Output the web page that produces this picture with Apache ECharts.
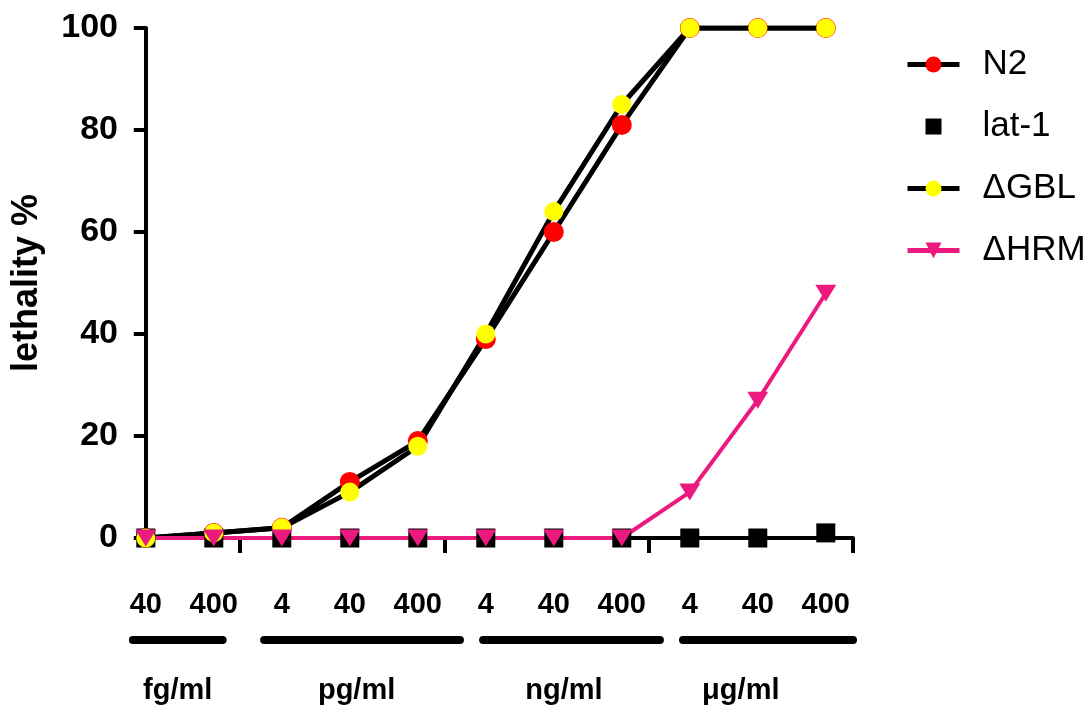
<!DOCTYPE html>
<html>
<head>
<meta charset="utf-8">
<script src="https://cdn.jsdelivr.net/npm/echarts@6/dist/echarts.min.js"></script>
<style>
  html, body { margin: 0; padding: 0; background: #fff; }
  #main { width: 1092px; height: 713px; }
</style>
</head>
<body>
<div id="main"></div>
<script>
// dose points, evenly spaced on the x axis (index 0..10)
const doseLabels = ['40', '400', '4', '40', '400', '4', '40', '400', '4', '40', '400']
const n2 = [0, 1, 2, 11, 19, 39, 60, 81, 100, 100, 100]
const lat1 = [0, 0, 0, 0, 0, 0, 0, 0, 0, 0, 1]
const gbl = [0, 1, 2, 9, 18, 40, 64, 85, 100, 100, 100]
const hrm = [0, 0, 0, 0, 0, 0, 0, 0, 9, 27, 48]
const yTicks = [0, 20, 40, 60, 80, 100]

// unit groups under the axis (spans in x-axis units)
const unitNames = ['fg/ml', 'pg/ml', 'ng/ml', 'μg/ml']
const unitStart = [-0.19, 1.74, 4.96, 7.9]
const unitEnd = [1.13, 4.62, 7.56, 10.4]
const unitLabelAt = [0.47, 3.1, 6.15, 8.75]

const pts = arr => arr.map((v, i) => [i, v])

const chart = echarts.init(document.getElementById('main'))

const font = "'Liberation Sans', Arial, sans-serif"

const option = {
    animation: false,
    grid: { left: 139, right: 239, top: 28, bottom: 175 },
    legend: {
        orient: 'vertical',
        left: 900,
        top: 42,
        itemWidth: 52,
        itemHeight: 20,
        itemGap: 27,
        lineStyle: { width: 5 },
        textStyle: { fontFamily: font, fontSize: 35, color: '#000', padding: [0, 0, 0, 18] },
        data: [
            { name: 'N2' },
            { name: 'lat-1', lineStyle: { width: 0, opacity: 0 } },
            { name: 'ΔGBL' },
            { name: 'ΔHRM' }
        ]
    },
    xAxis: {
        type: 'value',
        min: -0.1,
        max: 10.4,
        splitLine: { show: false },
        axisLine: { onZero: false, lineStyle: { color: '#000', width: 4 } },
        axisTick: { customValues: [1.38, 4.4, 7.4, 10.4], length: 15, lineStyle: { color: '#000', width: 4 } },
        axisLabel: {
            customValues: doseLabels.map((d, i) => i),
            formatter: v => doseLabels[Math.round(v)],
            margin: 52,
            fontFamily: font,
            fontWeight: 'bold',
            fontSize: 29,
            color: '#000'
        }
    },
    yAxis: {
        type: 'value',
        min: 0,
        max: 100,
        interval: 20,
        name: 'lethality %',
        nameLocation: 'middle',
        nameRotate: 90,
        nameGap: 94,
        nameTextStyle: { fontFamily: font, fontWeight: 'bold', fontSize: 36, color: '#000' },
        splitLine: { show: false },
        axisLine: { show: true, lineStyle: { color: '#000', width: 4 } },
        axisTick: { show: true, length: 12, lineStyle: { color: '#000', width: 4 } },
        axisLabel: {
            margin: 21,
            fontFamily: font,
            fontWeight: 'bold',
            fontSize: 34,
            color: '#000',
            formatter: v => yTicks.includes(v) ? String(v) : ''
        }
    },
    series: [
        {
            name: 'N2', type: 'line', data: pts(n2),
            symbol: 'circle', symbolSize: 20,
            lineStyle: { color: '#000', width: 5 },
            itemStyle: { color: '#ff0000' }
        },
        {
            name: 'lat-1', type: 'line', data: pts(lat1),
            symbol: 'rect', symbolSize: 19,
            lineStyle: { width: 0, opacity: 0 },
            itemStyle: { color: '#000' }
        },
        {
            name: 'ΔGBL', type: 'line', data: pts(gbl),
            symbol: 'circle', symbolSize: 19,
            lineStyle: { color: '#000', width: 5 },
            itemStyle: { color: '#ffff00' }
        },
        {
            name: 'ΔHRM', type: 'line', data: pts(hrm),
            symbol: 'triangle', symbolRotate: 180, symbolSize: [21, 17],
            lineStyle: { color: '#ec1a7f', width: 4 },
            itemStyle: { color: '#ec1a7f' }
        }
    ]
}
chart.setOption(option)

// unit bars and names below the dose labels
const barY = 640
const nameY = 691
const graphics = []
unitNames.forEach((name, i) => {
    const x1 = chart.convertToPixel({ xAxisIndex: 0 }, unitStart[i])
    const x2 = chart.convertToPixel({ xAxisIndex: 0 }, unitEnd[i])
    const xc = chart.convertToPixel({ xAxisIndex: 0 }, unitLabelAt[i])
    graphics.push({
        type: 'line',
        shape: { x1: x1, y1: barY, x2: x2, y2: barY },
        style: { stroke: '#000', lineWidth: 8, lineCap: 'round' }
    })
    graphics.push({
        type: 'text',
        x: xc, y: nameY,
        style: {
            text: name, fill: '#000',
            font: "bold 29px 'Liberation Sans', Arial, sans-serif",
            textAlign: 'center', textVerticalAlign: 'middle'
        }
    })
})
chart.setOption({ graphic: graphics })
</script>
</body>
</html>
